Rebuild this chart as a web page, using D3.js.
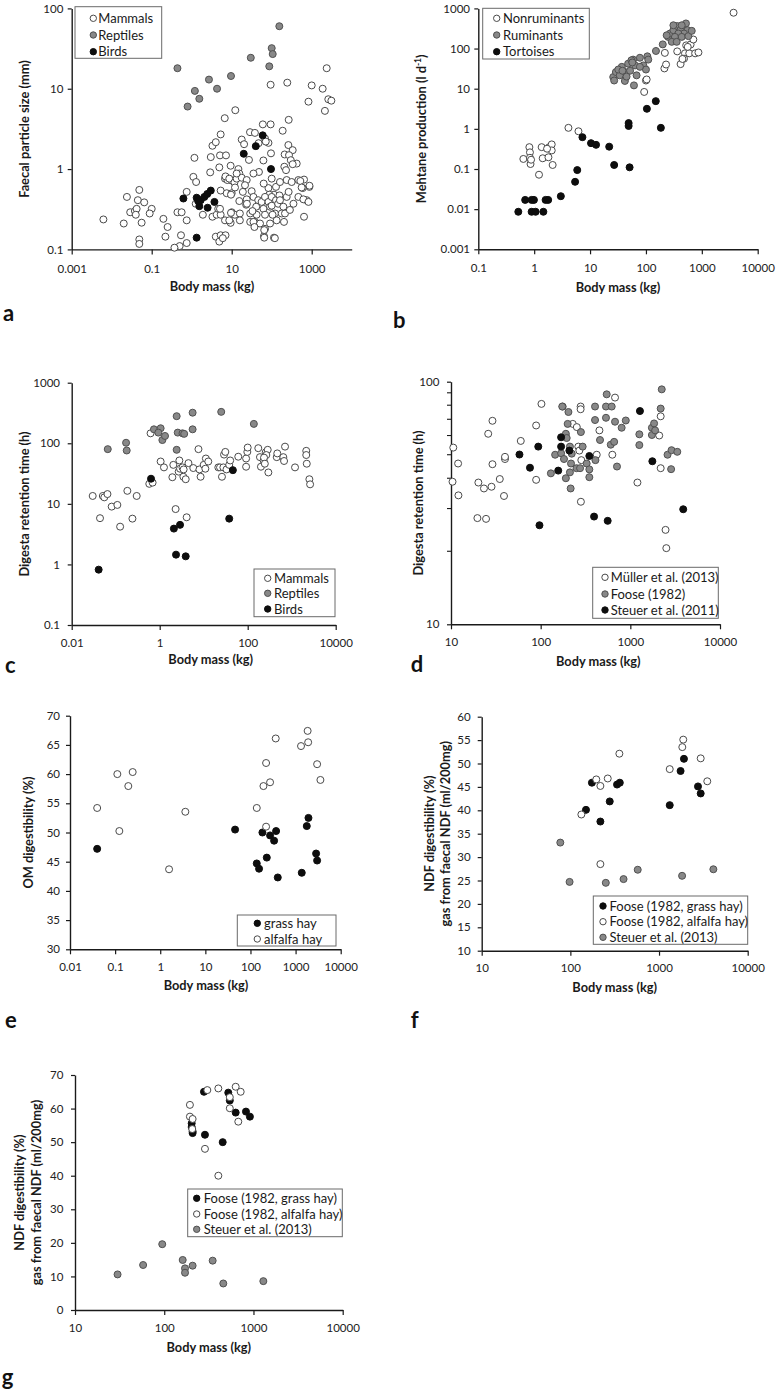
<!DOCTYPE html>
<html><head><meta charset="utf-8">
<script src="https://cdn.jsdelivr.net/npm/d3@7"></script>
<style>
body{margin:0;background:#fff;}
svg{display:block;font-family:Lato,"Open Sans",sans-serif;}
</style></head><body>
<svg id="chart" width="781" height="1394"></svg>
<script>
// ---------- DATA (body mass kg, value) ----------
const aMammals = [[0.0062,0.236],[0.020,0.21],[0.024,0.45],[0.029,0.29],[0.038,0.30],[0.042,0.32],[0.049,0.55],[0.045,0.41],[0.065,0.385],[0.056,0.215],[0.049,0.133],[0.049,0.117],[0.10,0.32],[0.089,0.28],[0.040,0.27],
[0.196,0.24],[0.25,0.19],[0.22,0.144],[0.44,0.29],[0.56,0.29],[0.75,0.23],[0.54,0.15],[0.75,0.12],[0.50,0.11],[0.37,0.105],[0.75,0.52],
[1.1,0.80],[1.17,1.38],[1.29,0.69],[1.26,0.37],[1.9,0.27],[3.3,0.255],[4.2,0.27],[4.6,0.32],[5.3,0.27],[5.1,0.32],[6.8,0.23],[9.4,0.214],[10,0.29],[12,0.27],[16,0.28],[23,0.36],[4.0,0.144],[5.3,0.15],[7.0,0.15],[4.9,0.125],[6.0,0.138],[8.7,0.23],[9.6,0.285],[16,0.23],
[2.9,0.91],[3.0,1.41],[3.3,1.95],[4.0,2.16],[5.3,2.7],[5.1,1.48],[7.2,1.48],[4.9,1.05],[9.4,1.1],[6.7,4.3],[12.3,5.4],[5.3,0.54],[7.5,0.50],[6.8,0.76],[7.8,0.73],[10,0.72],[7.0,0.81],[8.7,0.76],[10,0.50],[11.7,0.68],[9.6,0.48],
[14.7,1.0],[15.5,0.88],[13.3,0.76],[17.8,0.78],[23.7,0.73],[12.1,0.59],[21.5,0.63],[31.6,0.53],[15.5,0.40],[23.7,0.42],[19,0.52],[24,0.37],[13.3,0.88],
[17.8,2.33],[20.4,2.04],[28.7,2.88],[38,2.82],[60,3.6],[94,3.6],[83,2.12],[68,2.4],[47,2.1],[71,2.2],[27,1.3],[48,0.92],[62,1.28],[35,0.88],[96,1.57],
[100,0.76],[83,0.58],[114,0.48],[63,0.66],[87,0.48],[128,0.60],[161,0.69],
[35,0.45],[46,0.41],[41,0.34],[56,0.39],[68,0.45],[83,0.39],[100,0.45],[128,0.41],[156,0.47],[62,0.32],[91,0.34],[121,0.28],[178,0.28],[68,0.27],[42,0.27],[29,0.28],[29,0.22],[38,0.22],[51,0.21],[68,0.18],[64,0.146],[114,0.14],[91,0.21],[133,0.23],[33,0.30],[35,0.22],[37,0.19],[65,0.174],[65,0.14],[100,0.35],[105,0.27],[120,0.138],[145,0.37],
[188,3.0],[266,4.1],[261,1.99],[335,1.72],[211,1.52],[271,1.49],[300,1.29],[422,1.17],[207,1.07],[228,0.97],[237,0.73],[316,0.69],[464,0.73],[643,0.74],[875,0.60],[596,0.58],[464,0.45],[750,0.41],[643,0.255],[237,0.45],[161,0.41],[196,0.34],[203,0.22],[215,0.28],[265,0.52],[285,0.31],[350,0.37],[520,0.71],[560,0.59],[620,0.42],[830,0.39],[880,0.62],[335,1.15],
[94,11.2],[245,11.9],[1000,11],[830,6.9],[1880,10],[2140,5.3],[2600,7.4],[3100,7.1],[2370,18]];
const aReptiles = [[155,60],[0.44,18],[0.79,6],[1.2,9.4],[1.55,7.5],[2.7,13],[4.3,10],[9.6,14.4],[30,24.3],[87,19],[100,32],[106,27]];
const aBirds = [[0.62,0.43],[1.33,0.44],[1.68,0.41],[2.07,0.45],[2.45,0.49],[3.0,0.54],[1.55,0.345],[1.45,0.40],[3.7,0.39],[2.5,0.33],[1.33,0.14],[20,1.55],[40,1.93],[59.6,2.63],[96,1.0]];

const bNonruminants = [[0.64,0.178],[0.82,0.35],[0.84,0.26],[0.84,0.19],[0.86,0.133],[0.88,0.17],[1.36,0.35],[1.42,0.185],[1.22,0.072],[1.86,0.35],[1.8,0.196],[2.06,0.41],[2.06,0.29],[2.14,0.126],[1.7,0.32],[4.1,1.06],[6.2,0.87],
[93,8.3],[100,16],[103,17],[218,78],[214,32],[229,40],[363,85],[417,41],[500,76],[596,76],[760,76],[870,80],[525,120],[630,126],[705,168],[3700,780],[480,56],[560,110],[450,55]];
const bRuminants = [[26,19.5],[29,26],[37,35],[42,26],[34,21.5],[42,15.6],[61,12.1],[68,21.5],[48,42],[59,53],[78,59],[106,64],[110,53],[90,38],[100,30],[52,28],[45,20],[64,38],[78,35],[32,30],[55,51],[27,16],[38,28],[57,45],
[151,87],[200,127],[250,195],[270,237],[310,287],[363,363],[417,295],[520,422],[556,287],[480,237],[380,237],[330,195],[290,147],[355,147],[437,195],[575,204],[660,276],[235,214],[310,380],[437,380]];
const bTortoises = [[0.52,0.0086],[0.69,0.017],[0.9,0.017],[0.99,0.017],[0.9,0.0086],[1.06,0.0086],[1.46,0.0086],[1.6,0.017],[1.78,0.017],[3.0,0.021],[5.4,0.048],[5.9,0.094],[7.3,0.62],[10.4,0.44],[12.8,0.40],[22,0.36],[27,0.126],[51,0.11],[49,1.39],[49,1.18],[104,3.16],[150,4.9],[185,1.06]];

const cMammals = [[0.030,13.5],[0.044,5.8],[0.051,13.5],[0.055,12.8],[0.065,14.5],[0.081,9.0],[0.109,9.6],[0.126,4.2],[0.184,16.4],[0.24,5.7],[0.30,13.5],[0.58,21.4],[0.69,22.4],[0.62,146],[1.05,50],[1.25,40],[1.94,27.5],[2.04,44],[2.7,34],[2.8,52],[2.9,38],[3.3,40],[3.45,28],[3.9,25.5],[3.5,37],[2.3,8.2],[4.1,6.0],[4.5,47],[5.8,39],[7.6,80],[8.0,37],[8.5,28],[10,44],[10.9,38],[11.2,56],[12.7,50],[21.5,40],[23.5,40],[28,40],[26,28],[29,65],[31,72],[33,37],[38,44],[40,52],[61,60],[92,56],[98,72],[92,41],[100,85],[174,83],[190,59],[200,41],[230,52],[257,71],[285,78],[295,33],[265,64],[235,58],[245,46],[457,59],[470,68],[645,59],[705,88],[670,51],[1190,40],[2140,75],[2140,64],[2200,46],[2520,25.5],[2620,21]];
const cReptiles = [[0.066,80],[0.172,102],[0.178,76],[0.74,170],[1.05,177],[0.93,150],[1.15,113],[1.32,132],[2.43,280],[2.57,150],[2.43,78],[3.3,146],[3.6,143],[5.6,320],[5.6,170],[25,330],[138,209]];
const cBirds = [[0.041,0.82],[0.635,26],[2.1,3.9],[2.9,4.5],[2.35,1.45],[3.9,1.36],[38,5.7],[46,36]];

const dMuller = [[10.4,38.7],[10.6,53.5],[12,46],[12.1,34],[19.7,27.4],[24.6,27.2],[20.2,38.4],[23.3,36.3],[28.3,36.9],[29,45.7],[26,61],[29,69],[35,39.7],[39,33.8],[40,48],[40,49],[60,57],[89,39.4],[89,66],[102,81],[176,79],[228,67],[253,65],[279,79],[279,77],[281,32],[263,54],[270,52],[284,47.5],[422,50],[452,63],[630,50],[675,86],[1200,38.4],[2100,60],[2180,72],[2180,44],[2470,24.5],[2520,20.6]];
const dFoose = [[130,41.9],[145,50],[174,79],[169,50.7],[182,48],[191,40],[191,61],[204,75],[200,67],[195,58.6],[212,54],[218,46],[212,42.3],[216,36.3],[222,50.5],[251,44],[275,44],[281,62],[294,54],[326,46],[349,43.5],[349,40.4],[408,47.5],[404,69.5],[404,79],[459,57.5],[535,79],[535,71],[545,88.7],[620,79],[605,55],[660,56.5],[675,68.4],[710,44.7],[800,64.6],[890,69.2],[1260,60.7],[1260,54.8],[1740,64.6],[1740,60.3],[1840,67.3],[1890,63],[2180,77.5],[2240,93],[2600,50],[2880,52.2],[2850,43.6],[3340,51.4]];
const dSteuer = [[58,50.1],[76,44.2],[94,54],[97,25.6],[157,43],[169,54],[169,59],[209,52],[349,49.4],[394,27.8],[559,26.7],[1280,75.7],[1760,47],[3890,29.8]];

const eGrass = [[0.04,47.2],[45.6,50.5],[138,44.7],[155,43.8],[184,50],[230,45.7],[272,49.5],[370,50.25],[334,48.6],[403,42.3],[1370,43.1],[1770,51.1],[1930,52.5],[2850,46.4],[3000,45.2]];
const eAlfalfa = [[0.04,54.2],[0.112,60],[0.124,50.25],[0.196,57.95],[0.245,60.35],[1.57,43.7],[3.6,53.55],[138,54.2],[194,57.95],[222,61.9],[272,58.6],[222,51],[3000,61.7],[3550,59],[363,66.1],[1320,64.8],[1850,67.4],[1900,65.45]];

const fGrass = [[175,45.9],[150,40.1],[218,37.6],[278,41.9],[336,45.5],[361,45.9],[1320,41.1],[1750,48.4],[1910,51],[2750,45.1],[2950,43.6]];
const fAlfalfa = [[196,46.6],[218,45.2],[264,46.8],[357,52.1],[133,39.1],[1320,48.8],[1830,53.5],[1875,55.1],[2950,51.1],[3500,46.2],[218,28.5]];
const fSteuer = [[77,33.1],[98,24.7],[251,24.5],[398,25.3],[575,27.3],[1820,26],[4100,27.4]];

const gGrass = [[279,65],[522,64.75],[543,62.4],[632,58.8],[824,59.1],[912,57.6],[203,55.6],[203,54.5],[208,53.2],[208,52.7],[286,52.2],[452,50]];
const gAlfalfa = [[194,61.1],[194,57.6],[208,56.9],[206,53.9],[304,65.5],[404,66],[543,63.4],[543,60.1],[632,66.5],[719,65],[676,56.1],[286,48],[404,40]];
const gSteuer = [[30,10.6],[58,13.4],[95,19.6],[161,14.9],[171,12.4],[171,11.1],[208,13.2],[349,14.7],[459,7.9],[1290,8.6]];

// ---------- TICKS ----------
const aXTicks = [0.001,0.1,10,1000];
const aYTicks = [0.1,1,10,100];
const bXTicks = [0.1,1,10,100,1000,10000];
const bYTicks = [0.001,0.01,0.1,1,10,100,1000];
const cXTicks = [0.01,1,100,10000];
const cYTicks = [0.1,1,10,100,1000];
const dXTicks = [10,100,1000,10000];
const dYTicks = [10,100];
const dYMinor = [20,30,40,50,60,70,80,90];
const eXTicks = [0.01,0.1,1,10,100,1000,10000];
const eYTicks = [30,35,40,45,50,55,60,65,70];
const fXTicks = [10,100,1000,10000];
const fYTicks = [10,15,20,25,30,35,40,45,50,55,60];
const gXTicks = [10,100,1000,10000];
const gYTicks = [0,10,20,30,40,50,60,70];

// ---------- DRAWING ----------
const svg = d3.select("#chart");
const ST = {
  open:{fill:"#ffffff",stroke:"#4a4a4a"},
  gray:{fill:"#888888",stroke:"#505050"},
  black:{fill:"#0d0d0d",stroke:"#0d0d0d"}
};
const R = 3.5;

function drawPanel(p){
  const g = svg.append("g");
  const x = d3.scaleLog().domain(p.xDomain).range(p.xRange);
  const y = (p.yLog ? d3.scaleLog() : d3.scaleLinear()).domain(p.yDomain).range(p.yRange);

  const xa = g.append("g").attr("transform",`translate(0,${p.yRange[0]})`)
    .call(d3.axisBottom(x).tickValues(p.xTicks).tickFormat(String).tickSize(5).tickSizeOuter(0).tickPadding(p.xPad));
  const ya = g.append("g").attr("transform",`translate(${p.xRange[0]},0)`)
    .call(d3.axisLeft(y).tickValues(p.yTicks).tickFormat(String).tickSize(4).tickSizeOuter(0).tickPadding(p.yPad));
  [xa,ya].forEach(a=>{
    a.attr("font-family",null).attr("font-size",null);
    a.select(".domain").attr("stroke","#1a1a1a").attr("stroke-width",1.4);
    a.selectAll(".tick line").attr("stroke","#1a1a1a").attr("stroke-width",1.2);
    a.selectAll(".tick text").attr("font-size",11.5).attr("fill","#222");
  });
  if (p.yMinor){
    g.append("g").selectAll("line").data(p.yMinor).join("line")
      .attr("x1",p.xRange[0]-4).attr("x2",p.xRange[0])
      .attr("y1",d=>y(d)).attr("y2",d=>y(d))
      .attr("stroke","#1a1a1a").attr("stroke-width",1.1);
  }
  p.series.forEach(s=>{
    g.append("g").selectAll("circle").data(s.data).join("circle")
      .attr("cx",d=>x(d[0])).attr("cy",d=>y(d[1])).attr("r",R)
      .attr("fill",ST[s.style].fill).attr("stroke",ST[s.style].stroke).attr("stroke-width",1);
  });
  const L = p.legend;
  g.append("rect").attr("x",L.x).attr("y",L.y).attr("width",L.w).attr("height",L.h)
    .attr("fill","#fff").attr("stroke","#6a6a6a").attr("stroke-width",1);
  p.series.forEach((s,i)=>{
    const ry = L.rows[i];
    g.append("circle").attr("cx",L.mx).attr("cy",ry).attr("r",R-0.3)
      .attr("fill",ST[s.style].fill).attr("stroke",ST[s.style].stroke).attr("stroke-width",1);
    g.append("text").attr("x",L.tx).attr("y",ry).attr("dy","0.35em")
      .attr("font-size",13).attr("fill","#1a1a1a").text(s.label);
  });
  g.append("text").attr("x",p.xTitle[0]).attr("y",p.xTitle[1]).attr("dy","0.35em")
    .attr("text-anchor","middle").attr("font-weight","bold").attr("font-size",12.8).attr("fill","#1a1a1a")
    .text("Body mass (kg)");
  p.yTitle.forEach(t=>{
    const tx = g.append("text").attr("transform",`translate(${t.x},${t.y}) rotate(-90)`)
      .attr("dy","0.35em").attr("text-anchor","middle").attr("font-weight","bold")
      .attr("font-size",12.8).attr("fill","#1a1a1a");
    if (t.sup){
      tx.append("tspan").text(t.text);
      tx.append("tspan").attr("baseline-shift","super").attr("font-size",8.5).text(t.sup);
      tx.append("tspan").text(t.after);
    } else tx.text(t.text);
  });
  g.append("text").attr("x",p.letter[0]).attr("y",p.letter[1]).attr("font-size",22)
    .attr("font-weight","bold").attr("fill","#111").text(p.letter[2]);
}

drawPanel({
  xDomain:[0.001,10000], xRange:[71.7,351.7], yLog:true, yDomain:[0.1,100], yRange:[249.4,8.4],
  xTicks:aXTicks, yTicks:aYTicks, xPad:10, yPad:4.4,
  series:[{data:aMammals,style:"open",label:"Mammals"},{data:aReptiles,style:"gray",label:"Reptiles"},{data:aBirds,style:"black",label:"Birds"}],
  legend:{x:75,y:6.7,w:86.7,h:51.6,rows:[18.3,35,51.7],mx:93.3,tx:98.3},
  xTitle:[212,287], yTitle:[{x:25,y:129,text:"Faecal particle size (mm)"}], letter:[3,320.7,"a"]
});
drawPanel({
  xDomain:[0.1,10000], xRange:[478.3,757.7], yLog:true, yDomain:[0.001,1000], yRange:[249.3,8.4],
  xTicks:bXTicks, yTicks:bYTicks, xPad:10, yPad:4.3,
  series:[{data:bNonruminants,style:"open",label:"Nonruminants"},{data:bRuminants,style:"gray",label:"Ruminants"},{data:bTortoises,style:"black",label:"Tortoises"}],
  legend:{x:482.7,y:8.3,w:106.6,h:50.7,rows:[18.3,35,51.7],mx:496.7,tx:503},
  xTitle:[618,287.3], yTitle:[{x:421.7,y:128.8,text:"Mehtane production (l d",sup:"-1",after:")"}], letter:[393,328,"b"]
});
drawPanel({
  xDomain:[0.01,10000], xRange:[71.7,335.7], yLog:true, yDomain:[0.1,1000], yRange:[625,382.7],
  xTicks:cXTicks, yTicks:cYTicks, xPad:9, yPad:7.7,
  series:[{data:cMammals,style:"open",label:"Mammals"},{data:cReptiles,style:"gray",label:"Reptiles"},{data:cBirds,style:"black",label:"Birds"}],
  legend:{x:254,y:569,w:81,h:47.7,rows:[578.3,593.3,609],mx:267.7,tx:274},
  xTitle:[210.7,660], yTitle:[{x:25,y:504,text:"Digesta retention time (h)"}], letter:[5,673,"c"]
});
drawPanel({
  xDomain:[10,10000], xRange:[451,720], yLog:true, yDomain:[10,100], yRange:[624.3,381.7],
  xTicks:dXTicks, yTicks:dYTicks, yMinor:dYMinor, xPad:8.3, yPad:7.7,
  series:[{data:dMuller,style:"open",label:"Müller et al. (2013)"},{data:dFoose,style:"gray",label:"Foose (1982)"},{data:dSteuer,style:"black",label:"Steuer et al. (2011)"}],
  legend:{x:592.7,y:567.3,w:125.6,h:51,rows:[577.3,594,610],mx:605,tx:610.7},
  xTitle:[598.3,661.7], yTitle:[{x:418.3,y:503,text:"Digesta retention time (h)"}], letter:[410.7,671.7,"d"]
});
drawPanel({
  xDomain:[0.01,10000], xRange:[70,340.7], yLog:false, yDomain:[30,70], yRange:[949.3,715.7],
  xTicks:eXTicks, yTicks:eYTicks, xPad:8.7, yPad:6,
  series:[{data:eGrass,style:"black",label:"grass hay"},{data:eAlfalfa,style:"open",label:"alfalfa hay"}],
  legend:{x:237.3,y:915,w:98.7,h:31,rows:[923.3,939],mx:257.3,tx:264},
  xTitle:[206,986], yTitle:[{x:28.3,y:832.5,text:"OM digestibility (%)"}], letter:[5,1028,"e"]
});
drawPanel({
  xDomain:[10,10000], xRange:[481.7,747.7], yLog:false, yDomain:[10,60], yRange:[950.7,716.7],
  xTicks:fXTicks, yTicks:fYTicks, xPad:8.3, yPad:7,
  series:[{data:fGrass,style:"black",label:"Foose (1982, grass hay)"},{data:fAlfalfa,style:"open",label:"Foose (1982, alfalfa hay)"},{data:fSteuer,style:"gray",label:"Steuer et al. (2013)"}],
  legend:{x:593.3,y:896,w:154.4,h:48.3,rows:[906,921.7,937.3],mx:603,tx:609.5},
  xTitle:[614.7,987.7], yTitle:[{x:429.5,y:833.7,text:"NDF digestibility (%)"},{x:446,y:833.7,text:"gas from faecal NDF (ml/200mg)"}], letter:[410.7,1028.3,"f"]
});
drawPanel({
  xDomain:[10,10000], xRange:[75,342.7], yLog:false, yDomain:[0,70], yRange:[1310,1075],
  xTicks:gXTicks, yTicks:gYTicks, xPad:9, yPad:7.7,
  series:[{data:gGrass,style:"black",label:"Foose (1982, grass hay)"},{data:gAlfalfa,style:"open",label:"Foose (1982, alfalfa hay)"},{data:gSteuer,style:"gray",label:"Steuer et al. (2013)"}],
  legend:{x:187.7,y:1189,w:154.6,h:47.7,rows:[1198.3,1214,1229.3],mx:196.7,tx:203.8},
  xTitle:[208.8,1347.3], yTitle:[{x:20,y:1192.5,text:"NDF digestibility (%)"},{x:36.5,y:1192.5,text:"gas from faecal NDF (ml/200mg)"}], letter:[1.7,1385,"g"]
});
</script>
</body></html>
